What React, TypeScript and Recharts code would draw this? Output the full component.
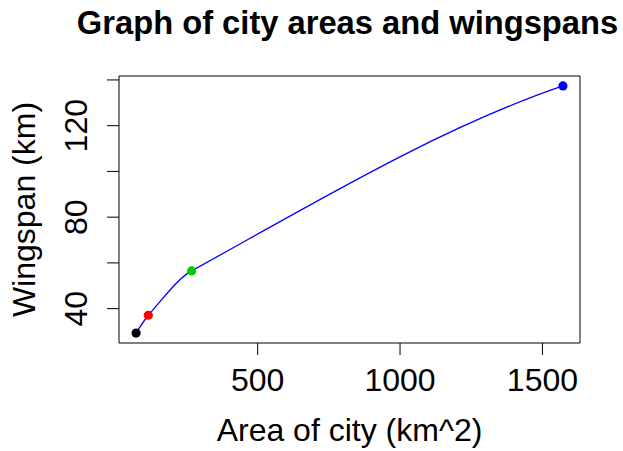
import React from "react";
import {
  ComposedChart,
  Line,
  Scatter,
  Cell,
  XAxis,
  YAxis,
  ReferenceArea,
} from "recharts";

// city areas (km^2) and wingspans (km)
const areas = [73, 116, 268, 1572];
const wingspans = [29.3, 37.1, 56.5, 137.4];
const xTicks = [500, 1000, 1500];
const yTicks = [40, 60, 80, 100, 120, 140];
const yTickLabels = [40, 80, 120];

const pointColors = ["#000000", "#FF0000", "#00CD00", "#0000FF"];

const data = areas.map((a, i) => ({ area: a, wingspan: wingspans[i] }));

// R-style 4% padding around the data range
const pad = (vals: number[]) => {
  const lo = Math.min(...vals);
  const hi = Math.max(...vals);
  const d = (hi - lo) * 0.04;
  return [lo - d, hi + d];
};
const xDomain = pad(areas);
const yDomain = pad(wingspans);

const W = 623;
const H = 451;
const FONT = "'Liberation Sans', Arial, Helvetica, sans-serif";
const PLOT_BOTTOM = 343;

// smooth curve y(x) through the points: cubic hermite, finite-difference
// tangents inside, parabola-damped tangents at the two ends
const smoothX = (context: any) => {
  let xs: number[] = [];
  let ys: number[] = [];
  return {
    areaStart() {},
    areaEnd() {},
    lineStart() {
      xs = [];
      ys = [];
    },
    point(x: number, y: number) {
      xs.push(+x);
      ys.push(+y);
    },
    lineEnd() {
      const n = xs.length;
      if (!n) return;
      context.moveTo(xs[0], ys[0]);
      if (n < 3) {
        for (let i = 1; i < n; i++) context.lineTo(xs[i], ys[i]);
        return;
      }
      const s: number[] = [];
      for (let i = 0; i < n - 1; i++) s.push((ys[i + 1] - ys[i]) / (xs[i + 1] - xs[i]));
      const m: number[] = new Array(n);
      for (let i = 1; i < n - 1; i++) m[i] = (ys[i + 1] - ys[i - 1]) / (xs[i + 1] - xs[i - 1]);
      const c0 = (s[1] - s[0]) / (xs[2] - xs[0]);
      m[0] = s[0] - (c0 * (xs[1] - xs[0])) / 3;
      const c1 = (s[n - 2] - s[n - 3]) / (xs[n - 1] - xs[n - 3]);
      m[n - 1] = s[n - 2] + (c1 * (xs[n - 1] - xs[n - 2])) / 3;
      for (let i = 0; i < n - 1; i++) {
        const h = xs[i + 1] - xs[i];
        context.bezierCurveTo(
          xs[i] + h / 3,
          ys[i] + (m[i] * h) / 3,
          xs[i + 1] - h / 3,
          ys[i + 1] - (m[i + 1] * h) / 3,
          xs[i + 1],
          ys[i + 1]
        );
      }
    },
  };
};

const XTick = ({ x, payload }: any) => (
  <text x={x} y={PLOT_BOTTOM + 48} textAnchor="middle" fontSize={32} fontFamily={FONT} fill="#000">
    {payload.value}
  </text>
);

const YTick = ({ y, payload }: any) => {
  if (!yTickLabels.includes(payload.value)) return <g />;
  const bx = 87;
  return (
    <text
      x={bx}
      y={y}
      transform={`rotate(-90, ${bx}, ${y})`}
      textAnchor="middle"
      fontSize={32}
      fontFamily={FONT}
      fill="#000"
    >
      {payload.value}
    </text>
  );
};

const Dot = (props: any) => (
  <circle cx={props.cx} cy={props.cy} r={4.6} fill={props.fill} />
);

export default function App() {
  return (
    <div style={{ position: "absolute", left: 0, top: 0, width: W, height: H, background: "#fff" }}>
      <ComposedChart
        width={W}
        height={H}
        data={data}
        margin={{ top: 76, right: 43, bottom: 0, left: 0 }}
      >
        <XAxis
          type="number"
          dataKey="area"
          domain={xDomain}
          ticks={xTicks}
          allowDataOverflow
          axisLine={false}
          tickLine={{ stroke: "#000", strokeWidth: 1 }}
          tickSize={12}
          tick={<XTick />}
          height={108}
        />
        <YAxis
          type="number"
          dataKey="wingspan"
          domain={yDomain}
          ticks={yTicks}
          allowDataOverflow
          axisLine={false}
          tickLine={{ stroke: "#000", strokeWidth: 1 }}
          tickSize={12}
          tick={<YTick />}
          width={119}
        />
        <ReferenceArea
          x1={xDomain[0]}
          x2={xDomain[1]}
          y1={yDomain[0]}
          y2={yDomain[1]}
          fill="none"
          fillOpacity={0}
          stroke="#000"
          strokeWidth={1}
        />
        <Scatter dataKey="wingspan" shape={<Dot />} isAnimationActive={false}>
          {data.map((_, i) => (
            <Cell key={`c-${i}`} fill={pointColors[i]} />
          ))}
        </Scatter>
        <Line
          type={smoothX as any}
          dataKey="wingspan"
          stroke="#0000FF"
          strokeWidth={1.3}
          dot={false}
          activeDot={false}
          isAnimationActive={false}
        />
      </ComposedChart>
      <svg
        width={W}
        height={H}
        style={{ position: "absolute", left: 0, top: 0, pointerEvents: "none" }}
        fontFamily={FONT}
      >
        <text x={347.5} y={34} textAnchor="middle" fontSize={32.7} fontWeight="bold" fill="#000">
          Graph of city areas and wingspans
        </text>
        <text x={349.5} y={441} textAnchor="middle" fontSize={32} fill="#000">
          Area of city (km^2)
        </text>
        <text
          x={35}
          y={209.5}
          transform="rotate(-90, 35, 209.5)"
          textAnchor="middle"
          fontSize={32}
          fill="#000"
        >
          Wingspan (km)
        </text>
      </svg>
    </div>
  );
}
